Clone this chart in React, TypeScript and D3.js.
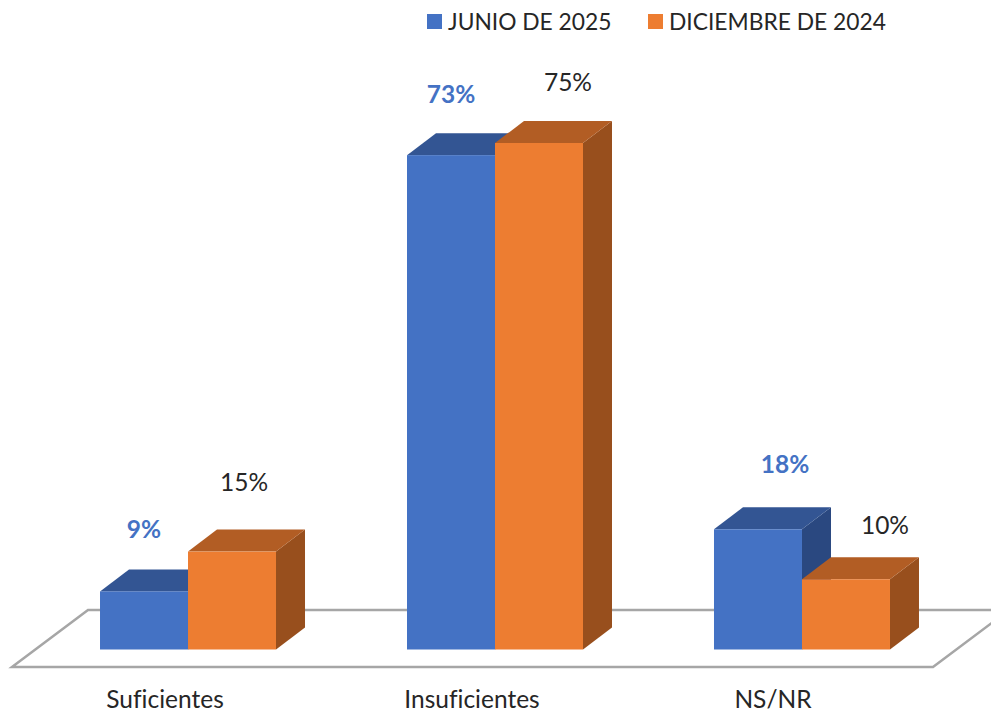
import * as d3 from "d3";
import React, { useEffect, useRef } from "react";

const categories = ["Suficientes", "Insuficientes", "NS/NR"];
const seriesNames = ["JUNIO DE 2025", "DICIEMBRE DE 2024"];
// the printed labels are these rounded
const junio = [8.6, 73.2, 17.8];
const diciembre = [14.5, 75, 10.4];

const width = 991;
const height = 715;
const baseY = 649.5;
const depthX = 29;
const depthY = 22;
const fontFamily = "Lato, 'Open Sans', sans-serif";

// front, top, side
const blues = ["#4472c4", "#335593", "#2a4880"];
const oranges = ["#ed7d31", "#b25d24", "#984f1d"];
const textColor = "#262626";

// labels were moved by hand in the original, so they sit off the bar centres
const labelNudgeX = [[0, 0, 27], [12, 29, 39]];
const labelNudgeY = [[53, 52, 56], [61, 52, 45]];
const catNudgeX = [-23, -23, -29];

export default function App() {
  const ref = useRef<SVGSVGElement>(null);

  useEffect(() => {
    const svg = d3.select(ref.current);
    svg.selectAll("*").remove();
    svg.style("font-variant-ligatures", "none");

    const x = d3.scaleBand()
      .domain(categories)
      .range([34.5, 955.5])
      .paddingInner(0.4267)
      .paddingOuter(0.2134);
    const xSeries = d3.scaleBand()
      .domain(seriesNames)
      .range([0, x.bandwidth()]);
    const y = d3.scaleLinear().domain([0, 75]).range([baseY, 143]);

    // floor of the 3d chart
    const floorLeft = 12;
    const floorRight = 933;
    const floorFront = 667;
    const floorDx = 76;
    const floorDy = 57;
    const floor = d3.line();
    svg.append("path")
      .attr("d", floor([
        [floorLeft, floorFront],
        [floorLeft + floorDx, floorFront - floorDy],
        [floorRight + floorDx, floorFront - floorDy],
        [floorRight, floorFront],
      ]) + "Z")
      .attr("fill", "none")
      .attr("stroke", "#a6a6a6")
      .attr("stroke-width", 2.5);

    const series = [
      { name: seriesNames[0], values: junio, colors: blues },
      { name: seriesNames[1], values: diciembre, colors: oranges },
    ];

    const poly = (g: any, pts: number[][], fill: string) =>
      g.append("path").attr("d", d3.line()(pts as any) + "Z").attr("fill", fill);

    categories.forEach((cat, c) => {
      series.forEach((s) => {
        const x0 = x(cat)! + xSeries(s.name)!;
        const x1 = x0 + xSeries.bandwidth();
        const top = y(s.values[c]);
        const g = svg.append("g");
        poly(g, [[x1, baseY], [x1 + depthX, baseY - depthY], [x1 + depthX, top - depthY], [x1, top]], s.colors[2]);
        poly(g, [[x0, top], [x0 + depthX, top - depthY], [x1 + depthX, top - depthY], [x1, top]], s.colors[1]);
        g.append("rect")
          .attr("x", x0)
          .attr("y", top)
          .attr("width", x1 - x0)
          .attr("height", baseY - top)
          .attr("fill", s.colors[0]);
      });
    });

    // value labels
    series.forEach((s, i) => {
      s.values.forEach((v, c) => {
        const x0 = x(categories[c])! + xSeries(s.name)!;
        svg.append("text")
          .attr("x", x0 + xSeries.bandwidth() / 2 + labelNudgeX[i][c])
          .attr("y", y(v) - labelNudgeY[i][c])
          .attr("text-anchor", "middle")
          .attr("font-family", fontFamily)
          .attr("font-size", 24.5)
          .attr("font-weight", i === 0 ? 700 : 400)
          .attr("fill", i === 0 ? blues[0] : textColor)
          .text(Math.round(v) + "%");
      });
    });

    // category labels
    categories.forEach((cat, c) => {
      svg.append("text")
        .attr("x", x(cat)! + x.bandwidth() / 2 + catNudgeX[c])
        .attr("y", 708)
        .attr("text-anchor", "middle")
        .attr("font-family", fontFamily)
        .attr("font-size", 24.5)
        .attr("fill", textColor)
        .text(cat);
    });

    // legend
    const legendX = [427, 648];
    series.forEach((s, i) => {
      svg.append("rect")
        .attr("x", legendX[i])
        .attr("y", 14)
        .attr("width", 15)
        .attr("height", 15)
        .attr("fill", s.colors[0]);
      svg.append("text")
        .attr("x", legendX[i] + 21)
        .attr("y", 30)
        .attr("font-family", fontFamily)
        .attr("font-size", 22.8)
        .attr("fill", textColor)
        .text(s.name);
    });
  }, []);

  return (
    <svg
      ref={ref}
      width={width}
      height={height}
      style={{ position: "absolute", left: 0, top: 0, background: "#fff" }}
    />
  );
}
